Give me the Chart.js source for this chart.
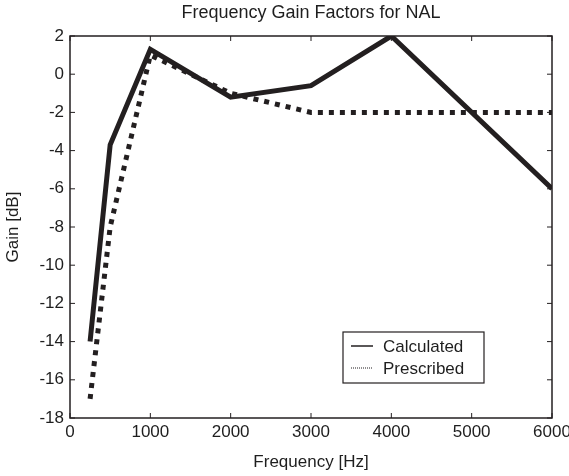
<!DOCTYPE html>
<html lang="en">
<head>
    <meta charset="UTF-8">
    <title>Frequency Gain Factors for NAL</title>
    <script src="https://cdn.jsdelivr.net/npm/chart.js"></script>
    <style>
        body {
            margin: 0;
            padding: 0;
            background: #fff;
        }
        #wrap {
            width: 569px;
            height: 476px;
        }
    </style>
</head>
<body>
    <div id="wrap"><canvas id="nalChart" width="569" height="476"></canvas></div>

    <script>
        // Calculated gain curve
        const freqCalc = [250, 500, 1000, 2000, 3000, 4000, 6000];
        const gainCalc = [-14, -3.7, 1.3, -1.2, -0.6, 2, -6];

        // Prescribed NAL gain curve
        const freqPresc = [250, 500, 1000, 2000, 3000, 4000, 5000, 6000];
        const gainPresc = [-17, -8, 1, -1, -2, -2, -2, -2];

        const seriesNames = ['Calculated', 'Prescribed'];
        const chartTitle = 'Frequency Gain Factors for NAL';

        const ink = '#231f20';
        const textColor = '#1e1e1e';
        const fontFamily = '"Liberation Sans", Arial, sans-serif';

        const toPoints = (xs, ys) => xs.map((x, i) => ({ x: x, y: ys[i] }));

        // title over the plot, box around the axes, inward ticks on all four sides, legend box
        const framePlugin = {
            id: 'frame',
            afterDraw(chart) {
                const { ctx, chartArea: a, scales } = chart;
                const tick = 5;
                ctx.save();

                ctx.fillStyle = textColor;
                ctx.font = '18px ' + fontFamily;
                ctx.textAlign = 'center';
                ctx.textBaseline = 'middle';
                ctx.fillText(chartTitle, (a.left + a.right) / 2, 13);

                ctx.strokeStyle = ink;
                ctx.lineWidth = 1.5;
                ctx.strokeRect(a.left, a.top, a.right - a.left, a.bottom - a.top);

                ctx.lineWidth = 1;
                ctx.beginPath();
                scales.x.ticks.forEach(t => {
                    const px = scales.x.getPixelForValue(t.value);
                    ctx.moveTo(px, a.bottom); ctx.lineTo(px, a.bottom - tick);
                    ctx.moveTo(px, a.top); ctx.lineTo(px, a.top + tick);
                });
                scales.y.ticks.forEach(t => {
                    const py = scales.y.getPixelForValue(t.value);
                    ctx.moveTo(a.left, py); ctx.lineTo(a.left + tick, py);
                    ctx.moveTo(a.right, py); ctx.lineTo(a.right - tick, py);
                });
                ctx.stroke();

                // legend
                const lx = a.left + 273, ly = a.top + 296, lw = 141, lh = 51;
                ctx.fillStyle = '#fff';
                ctx.fillRect(lx, ly, lw, lh);
                ctx.lineWidth = 1.2;
                ctx.strokeRect(lx, ly, lw, lh);
                ctx.font = '17px ' + fontFamily;
                ctx.textAlign = 'left';
                ctx.fillStyle = textColor;
                seriesNames.forEach((name, i) => {
                    const y = ly + 14 + i * 22;
                    ctx.beginPath();
                    ctx.lineWidth = i === 0 ? 1.5 : 1;
                    ctx.setLineDash(i === 0 ? [] : [1, 1]);
                    ctx.moveTo(lx + 8, y);
                    ctx.lineTo(lx + 30, y);
                    ctx.stroke();
                    ctx.setLineDash([]);
                    ctx.fillText(name, lx + 40, y + 1);
                });
                ctx.restore();
            }
        };

        new Chart(document.getElementById('nalChart'), {
            type: 'line',
            data: {
                datasets: [
                    {
                        label: seriesNames[0],
                        data: toPoints(freqCalc, gainCalc),
                        borderColor: ink,
                        borderWidth: 5,
                        borderJoinStyle: 'miter',
                        pointRadius: 0,
                        tension: 0,
                        clip: 0
                    },
                    {
                        label: seriesNames[1],
                        data: toPoints(freqPresc, gainPresc),
                        borderColor: ink,
                        borderWidth: 5,
                        borderDash: [5, 6],
                        borderCapStyle: 'butt',
                        pointRadius: 0,
                        tension: 0,
                        clip: 0
                    }
                ]
            },
            options: {
                responsive: false,
                animation: false,
                layout: { padding: { top: 36, right: 17, bottom: 0, left: 0 } },
                plugins: {
                    legend: { display: false },
                    tooltip: { enabled: false },
                    title: { display: false }
                },
                scales: {
                    x: {
                        type: 'linear',
                        min: 0,
                        max: 6000,
                        grid: { display: false, drawTicks: false },
                        border: { display: false },
                        ticks: {
                            stepSize: 1000,
                            padding: 4,
                            color: textColor,
                            font: { family: fontFamily, size: 17 },
                            maxRotation: 0,
                            callback: v => String(v)
                        },
                        title: {
                            display: true,
                            text: 'Frequency [Hz]',
                            color: textColor,
                            font: { family: fontFamily, size: 17 },
                            padding: { top: 0, bottom: 3 }
                        },
                        afterFit(scale) {
                            scale.height = 58;
                            scale.paddingLeft = 0;
                            scale.paddingRight = 0;
                        }
                    },
                    y: {
                        min: -18,
                        max: 2,
                        grid: { display: false, drawTicks: false },
                        border: { display: false },
                        ticks: {
                            stepSize: 2,
                            padding: 6,
                            color: textColor,
                            font: { family: fontFamily, size: 17 },
                            callback: v => String(v)
                        },
                        title: {
                            display: true,
                            text: 'Gain [dB]',
                            color: textColor,
                            font: { family: fontFamily, size: 17 },
                            padding: { top: 3, bottom: 0 }
                        },
                        afterFit(scale) {
                            scale.width = 70;
                            scale.paddingTop = 0;
                            scale.paddingBottom = 0;
                        }
                    }
                }
            },
            plugins: [framePlugin]
        });
    </script>
</body>
</html>
